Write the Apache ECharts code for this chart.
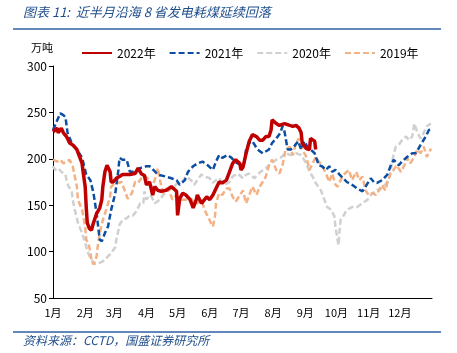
<!DOCTYPE html>
<html>
<head>
<meta charset="utf-8">
<script src="https://cdn.jsdelivr.net/npm/echarts@6/dist/echarts.min.js"></script>
<style>
  html, body { margin: 0; padding: 0; background: #fff; }
  #main { width: 457px; height: 353px; }
</style>
</head>
<body>
<div id="main"></div>
<script>
// 月份标签（按年内天数定位）
const monthLabels = ['1月', '2月', '3月', '4月', '5月', '6月', '7月', '8月', '9月', '10月', '11月', '12月'];
const monthStarts = [0, 31, 59, 90, 120, 151, 181, 212, 243, 273, 304, 334];
const yTicks = [50, 100, 150, 200, 250, 300];

// [年内第几天, 万吨]
const d2022 = [[0,229],[4,233],[5,228],[8,233],[10,228],[13,224],[16,217],[19,215],[23,210],[26,201],[28,195],[29,186],[31,170],[32,148],[33,131],[35,125],[37,123],[39,131],[42,141],[45,147],[47,156],[48,170],[50,186],[52,193],[53,195],[55,186],[56,175],[58,175],[61,179],[64,181],[67,183],[74,183],[79,184],[82,190],[85,184],[88,182],[90,172],[93,175],[96,161],[98,170],[101,166],[104,165],[109,166],[114,170],[119,165],[120,139],[122,157],[125,163],[128,161],[132,156],[135,147],[138,156],[139,161],[143,152],[148,159],[151,156],[154,161],[157,168],[160,175],[163,174],[167,177],[170,186],[173,195],[176,199],[180,195],[181,188],[183,191],[186,206],[189,219],[192,226],[196,224],[199,220],[202,220],[205,224],[208,224],[210,231],[211,242],[215,238],[218,236],[223,238],[228,236],[231,235],[234,236],[237,233],[239,228],[240,217],[244,211],[247,210],[248,222],[252,219],[253,210]];
const d2021 = [[0,231],[7,249],[10,247],[12,245],[14,228],[18,217],[23,210],[28,201],[32,183],[36,177],[39,163],[42,141],[45,113],[47,111],[50,120],[53,127],[56,145],[60,163],[63,188],[64,201],[67,199],[71,199],[74,186],[77,186],[84,190],[90,192],[93,192],[95,190],[101,183],[108,181],[114,179],[119,177],[122,172],[127,177],[130,186],[135,192],[139,195],[144,197],[149,193],[154,188],[157,197],[160,204],[163,201],[168,204],[172,201],[175,197],[178,195],[181,193],[184,195],[186,210],[189,217],[192,219],[197,210],[202,206],[208,210],[211,217],[215,222],[219,228],[221,235],[223,229],[226,210],[229,210],[232,213],[236,219],[239,210],[242,219],[245,213],[248,210],[252,206],[256,193],[259,192],[263,188],[266,192],[269,186],[272,188],[276,183],[277,183],[283,175],[288,172],[293,168],[298,165],[301,170],[306,179],[309,175],[312,174],[317,177],[322,183],[325,192],[328,199],[333,193],[336,197],[341,202],[346,206],[349,206],[352,211],[355,217],[359,224],[362,231],[365,233]];
const d2020 = [[0,192],[2,188],[5,190],[8,186],[12,183],[13,177],[15,170],[18,166],[19,156],[21,145],[24,131],[28,120],[31,109],[34,98],[37,91],[40,87],[43,87],[47,89],[50,91],[53,95],[56,98],[60,105],[61,113],[63,123],[64,129],[67,134],[71,136],[74,139],[77,139],[80,143],[84,152],[87,152],[88,165],[90,156],[93,161],[95,159],[98,152],[103,156],[106,161],[111,166],[115,168],[120,174],[124,175],[128,181],[133,177],[136,172],[139,177],[143,183],[146,181],[151,179],[154,174],[157,177],[160,179],[165,172],[170,175],[173,181],[178,184],[183,179],[186,183],[189,184],[194,179],[197,183],[200,186],[205,190],[210,195],[215,199],[219,201],[224,206],[229,204],[234,206],[239,204],[244,195],[247,186],[250,181],[253,174],[258,166],[261,157],[264,148],[268,145],[271,138],[272,127],[274,113],[275,107],[276,123],[277,134],[280,139],[283,145],[288,148],[293,148],[298,152],[303,156],[306,161],[311,166],[316,168],[320,172],[324,179],[327,199],[330,213],[333,215],[336,220],[340,224],[343,220],[346,224],[348,238],[351,228],[354,222],[357,228],[360,235],[364,238]];
const d2019 = [[0,199],[4,197],[7,199],[10,195],[13,197],[16,199],[19,192],[21,181],[23,170],[24,156],[28,145],[31,127],[32,113],[34,109],[36,100],[37,91],[39,86],[40,87],[42,95],[43,105],[45,120],[48,134],[50,141],[52,148],[55,159],[56,170],[60,174],[63,174],[66,175],[69,166],[72,157],[76,163],[79,175],[82,174],[85,179],[88,182],[91,179],[95,170],[98,177],[101,190],[103,177],[106,163],[109,168],[112,165],[115,156],[119,161],[124,156],[128,156],[133,157],[136,152],[139,152],[143,156],[146,145],[149,138],[152,131],[154,127],[156,138],[157,152],[160,163],[163,161],[167,168],[170,168],[173,159],[176,154],[180,161],[183,166],[184,161],[186,152],[189,161],[192,170],[196,161],[199,170],[202,175],[205,181],[208,193],[211,199],[215,188],[218,184],[221,193],[224,210],[228,213],[231,204],[234,217],[237,222],[240,210],[244,202],[247,188],[250,195],[253,202],[256,197],[259,193],[263,184],[266,175],[269,184],[272,172],[274,170],[277,177],[280,183],[285,188],[288,177],[292,186],[295,177],[298,181],[301,166],[304,161],[308,163],[311,161],[314,166],[317,172],[320,166],[322,174],[325,184],[328,188],[331,193],[335,186],[338,192],[341,201],[344,195],[348,202],[351,210],[354,206],[357,213],[360,202],[364,211]];

const chart = echarts.init(document.getElementById('main'));
const FONT = '"Noto Sans CJK SC", "Liberation Sans", sans-serif';

const option = {
  animation: false,
  textStyle: { fontFamily: FONT },
  graphic: [
    {
      type: 'text', left: 23, top: 6,
      style: { text: '图表 11:  近半月沿海 8 省发电耗煤延续回落', fontSize: 13, fontStyle: 'italic', fill: '#1F4E8C', fontFamily: FONT }
    },
    { type: 'line', shape: { x1: 13, y1: 29, x2: 441, y2: 29 }, style: { stroke: '#2E5FA3', lineWidth: 1.5 } },
    {
      type: 'text', left: 31, top: 42,
      style: { text: '万吨', fontSize: 11, fill: '#000', fontFamily: FONT }
    },
    { type: 'line', shape: { x1: 13, y1: 332, x2: 441, y2: 332 }, style: { stroke: '#2E5FA3', lineWidth: 1.5 } },
    {
      type: 'text', left: 23, top: 334,
      style: { text: '资料来源：CCTD，国盛证券研究所', fontSize: 12, fontStyle: 'italic', fill: '#1F4E8C', fontFamily: FONT }
    }
  ],
  legend: {
    top: 42, left: 76,
    itemWidth: 30, itemHeight: 10, itemGap: 13,
    itemStyle: { opacity: 0 },
    textStyle: { fontSize: 12, color: '#000', fontFamily: FONT },
    data: ['2022年', '2021年', '2020年', '2019年']
  },
  grid: { left: 53, right: 25, top: 66, bottom: 55 },
  xAxis: {
    type: 'value', min: 0, max: 365,
    splitLine: { show: false },
    axisTick: { show: false },
    axisLine: { lineStyle: { color: '#000', width: 1 } },
    axisLabel: {
      customValues: monthStarts,
      formatter: (v) => monthLabels[monthStarts.indexOf(v)] || '',
      color: '#000', fontSize: 11, margin: 9
    }
  },
  yAxis: {
    type: 'value', min: yTicks[0], max: yTicks[yTicks.length - 1], interval: 50,
    splitLine: { show: false },
    axisLine: { show: true, lineStyle: { color: '#000', width: 1 } },
    axisTick: { show: true, length: 4, lineStyle: { color: '#000' } },
    axisLabel: { color: '#000', fontSize: 12, margin: 6 }
  },
  series: [
    { name: '2022年', type: 'line', data: d2022, symbol: 'none', z: 5,
      lineStyle: { color: '#C00000', width: 3.5 }, itemStyle: { color: '#C00000' } },
    { name: '2021年', type: 'line', data: d2021, symbol: 'none', z: 4,
      lineStyle: { color: '#0B4EA2', width: 2.5, type: [6, 3] }, itemStyle: { color: '#0B4EA2' } },
    { name: '2020年', type: 'line', data: d2020, symbol: 'none', z: 2,
      lineStyle: { color: '#D0D0D0', width: 2.5, type: [6, 3] }, itemStyle: { color: '#D0D0D0' } },
    { name: '2019年', type: 'line', data: d2019, symbol: 'none', z: 3,
      lineStyle: { color: '#F4B183', width: 2.5, type: [6, 3] }, itemStyle: { color: '#F4B183' } }
  ]
};

chart.setOption(option);
</script>
</body>
</html>
